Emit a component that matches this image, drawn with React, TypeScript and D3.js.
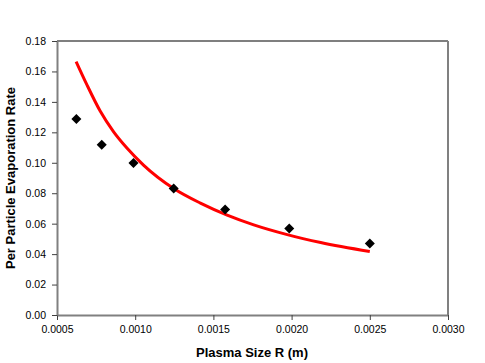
import React, { useEffect, useRef } from 'react';
import * as d3 from 'd3';

// measured points
const sizeR = [0.000624, 0.000786, 0.000989, 0.001246, 0.001575, 0.001985, 0.0025];
const evapRate = [0.1287, 0.1118, 0.0999, 0.0831, 0.0693, 0.0568, 0.047];

// red trend line
const fitR = [0.000622, 0.00069, 0.000776, 0.000861, 0.000947, 0.001053, 0.001246, 0.001417, 0.001588, 0.001758, 0.001972, 0.002186, 0.0025];
const fitRate = [0.1665, 0.1515, 0.134, 0.1205, 0.1097, 0.0985, 0.0831, 0.0735, 0.0656, 0.0592, 0.0528, 0.0476, 0.0417];

const xTicks = [0.0005, 0.001, 0.0015, 0.002, 0.0025, 0.003];
const yTicks = [0, 0.02, 0.04, 0.06, 0.08, 0.1, 0.12, 0.14, 0.16, 0.18];

const W = 485;
const H = 363;
const margin = { top: 41, right: 37, bottom: 48, left: 57 };

export default function App() {
  const ref = useRef<SVGSVGElement>(null);

  useEffect(() => {
    const svg = d3.select(ref.current);
    svg.selectAll('*').remove();

    const x = d3.scaleLinear().domain([0.0005, 0.003]).range([margin.left, W - margin.right]);
    const y = d3.scaleLinear().domain([0, 0.18]).range([H - margin.bottom, margin.top]);

    // plot frame: black top, gray right
    svg.append('line')
      .attr('x1', x(0.0005)).attr('x2', x(0.003))
      .attr('y1', y(0.18)).attr('y2', y(0.18))
      .attr('stroke', '#000').attr('stroke-width', 1.2);
    svg.append('line')
      .attr('x1', x(0.003)).attr('x2', x(0.003))
      .attr('y1', y(0.18)).attr('y2', y(0))
      .attr('stroke', '#808080').attr('stroke-width', 2);

    const xAxis = d3.axisBottom(x)
      .tickValues(xTicks)
      .tickSize(5)
      .tickSizeOuter(0)
      .tickFormat(d3.format('.4f'));
    const gx = svg.append('g')
      .attr('transform', `translate(0,${y(0)})`)
      .call(xAxis);

    const yAxis = d3.axisLeft(y)
      .tickValues(yTicks)
      .tickSize(5)
      .tickSizeOuter(0)
      .tickFormat(d3.format('.2f'));
    const gy = svg.append('g')
      .attr('transform', `translate(${x(0.0005)},0)`)
      .call(yAxis);

    [gx, gy].forEach((g) => {
      g.select('.domain').attr('stroke', '#808080').attr('stroke-width', 2);
      g.selectAll('.tick line').attr('stroke', '#404040').attr('stroke-width', 1);
      g.selectAll('.tick text')
        .attr('font-family', '"Liberation Sans", Arial, sans-serif')
        .attr('font-size', 10.5)
        .attr('fill', '#000');
    });
    gx.selectAll('.tick text').attr('dy', null).attr('y', 18);
    gy.selectAll('.tick text').attr('x', -11);

    // fitted curve
    const line = d3.line<number>()
      .x((d) => x(d))
      .y((_, i) => y(fitRate[i]))
      .curve(d3.curveMonotoneX);
    svg.append('path')
      .datum(fitR)
      .attr('d', line)
      .attr('fill', 'none')
      .attr('stroke', '#ff0000')
      .attr('stroke-width', 3);

    // diamonds
    svg.selectAll('path.pt')
      .data(sizeR)
      .enter()
      .append('path')
      .attr('class', 'pt')
      .attr('d', d3.symbol(d3.symbolDiamond2, 64))
      .attr('transform', (d, i) => `translate(${x(d)},${y(evapRate[i])})`)
      .attr('fill', '#000');

    // axis titles
    svg.append('text')
      .attr('x', 252)
      .attr('y', 357)
      .attr('text-anchor', 'middle')
      .attr('font-family', '"Liberation Sans", Arial, sans-serif')
      .attr('font-weight', 'bold')
      .attr('font-size', 13)
      .text('Plasma Size R (m)');

    svg.append('text')
      .attr('transform', 'translate(15,178) rotate(-90)')
      .attr('text-anchor', 'middle')
      .attr('font-family', '"Liberation Sans", Arial, sans-serif')
      .attr('font-weight', 'bold')
      .attr('font-size', 13)
      .text('Per Particle Evaporation Rate');
  }, []);

  return (
    <div style={{ position: 'absolute', left: 0, top: 0 }}>
      <svg ref={ref} width={W} height={H} style={{ display: 'block', background: '#fff' }} />
    </div>
  );
}
